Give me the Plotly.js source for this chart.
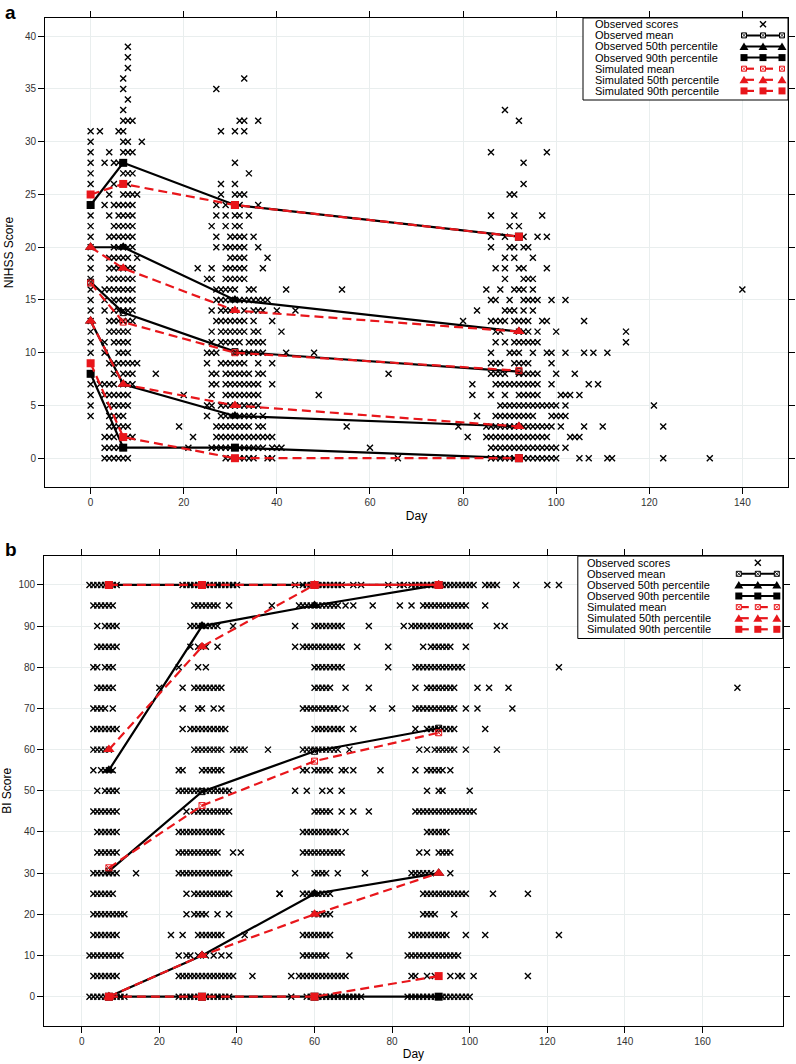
<!DOCTYPE html>
<html><head><meta charset="utf-8">
<script src="https://cdn.plot.ly/plotly-3.0.1.min.js"></script>
<style>html,body{margin:0;padding:0;background:#fff}#chart{width:796px;height:1064px}</style>
</head><body><div id="chart"></div>
<script>
// ---------------- DATA ----------------
// Panel a (NIHSS) summary statistics at visit days
const nihssVisitDays = [0, 7, 31, 92];
const nihssObsMean = [16.7, 13.8, 10.1, 8.2];
const nihssSimMean = [16.6, 12.9, 10.0, 8.3];
const nihssObsTriUpper = [20, 20, 15, 12];
const nihssSimTriUpper = [20, 18, 14, 12];
const nihssObsTriLower = [13, 7, 4, 3];
const nihssSimTriLower = [13, 7, 5, 3];
const nihssObsSqUpper = [24, 28, 24, 21];
const nihssSimSqUpper = [25, 26, 24, 21];
const nihssObsSqLower = [8, 1, 1, 0];
const nihssSimSqLower = [9, 2, 0, 0];

// Panel a observed scores: [score, [days...]]
const nihssEarlyRows = [[39,[8]],[38,[8]],[37,[8]],[36,[7]],[35,[7]],[34,[8]],[33,[7]],[32,[7,8,9]],[31,[0,2,6,7]],[30,[0,7,8,11]],[29,[0,4,7,8,9]],[28,[0,3,5,6,7]],[27,[0,7,8,9]],[26,[0,5,7,8]],[25,[0,4,7,8,9,10]],[24,[0,3,5,6,7,8,9]],[23,[0,4,6,7,8,9]],[22,[0,5,6,7,8,9]],[21,[0,4,5,6,7,8,9]],[20,[0,5,6,7,8,9]],[19,[0,4,5,6,7,8,10]],[18,[0,4,5,6,7,8,9]],[17,[0,4,5,6,7,8,9]],[16,[0,3,4,5,6,7,8,9]],[15,[0,3,5,6,7,8,9]],[14,[0,3,5,6,7,8,9]],[13,[0,4,5,6,7,8,9]],[12,[0,4,5,6,7,8]],[11,[0,3,5,6,7,8]],[10,[0,3,6,7,8]],[9,[0,4,5,6,7,8,9,10]],[8,[0,5,7,8,9,14]],[7,[0,2,3,4,5,7,8,9]],[6,[0,3,4,5,6,7,8]],[5,[0,4,5,6,7,8]],[4,[0,4,5,6,7]],[3,[4,5,6,7,8,19]],[2,[3,4,5,7,8,9]],[1,[3,4,5,6,7]],[0,[3,4,5,6,7,8]]];
const nihssMonth1Rows = [[36,[33]],[35,[27]],[32,[32,33,36]],[31,[28,31,33]],[28,[31]],[27,[34]],[26,[28,31]],[25,[28,31,32,33]],[24,[27,29,31,32,36]],[23,[27,29,31,32,34]],[22,[26,29,31,32]],[21,[27,30,31,32,33,35]],[20,[27,29,30,31,32,33,36]],[19,[30,31,32,33,38]],[18,[23,26,29,30,31,32,33,37]],[17,[25,26,29,30,31,32,33]],[16,[27,28,29,30,31,34,35,42,54]],[15,[27,28,29,30,31,32,33,34,35,36,37,38]],[14,[26,28,29,30,31,33,35,36,37,40,44]],[13,[27,28,29,30,31,32,33,35,39]],[12,[26,28,29,30,31,32,33,35,36,41]],[11,[26,28,29,30,31,32,34,35,36,37]],[10,[25,26,27,31,32,33,34,35,36,37,42,48]],[9,[25,28,29,30,31,32,33,36,39]],[8,[26,27,29,30,31,32,33,34,36,37,64]],[7,[26,27,29,30,31,32,33,34,35,36,39]],[6,[20,26,29,30,31,32,33,34,35,36,49]],[5,[25,26,28,29,30,31,32,33,34,35,36]],[4,[25,28,29,30,31,32,33,34,35,37]],[3,[27,28,29,30,31,32,33,34,36,37,55]],[2,[22,27,28,29,30,31,32,33,34,35,36,37,38,39]],[1,[21,26,27,28,29,30,31,32,33,34,35,36,37,39,40,41,60]],[0,[29,30,31,32,33,34,35,38,39,66]]];
const nihssMonth3Rows = [[33,[89]],[32,[92]],[29,[86,98]],[28,[93]],[26,[93]],[25,[90,91]],[23,[86,91,97]],[22,[90,92]],[21,[86,89,92,93,96,98]],[20,[86,90,91,93,94]],[19,[89,91,95]],[18,[87,89,92,93,98]],[17,[89,93,94,95]],[16,[85,88,91,92,93,95,140]],[15,[86,87,90,93,94,95,96,99,102]],[14,[83,89,90,91,93,95]],[13,[80,86,87,88,89,91,92,93,94,97,98,106]],[12,[87,88,92,93,94,96,100,115]],[11,[87,89,91,92,93,94,95,96,115]],[10,[86,90,91,92,95,98,99,102,106,108,111]],[9,[86,87,88,91,92,93,94,99]],[8,[86,87,88,89,92,93,94,95,96,100,104]],[7,[82,87,88,89,90,91,92,93,94,95,96,99,107,109]],[6,[82,86,89,92,93,94,95,96,101,102,103,105]],[5,[88,89,90,91,92,93,94,95,96,97,98,99,100,102,121]],[4,[83,87,88,89,90,91,92,93,94,95,99,100,101,102]],[3,[79,85,86,87,88,89,90,91,92,93,94,95,96,97,98,99,101,106,110,123]],[2,[81,85,86,87,88,89,90,91,92,93,94,95,96,97,98,103,104,105]],[1,[86,87,88,89,90,91,92,93,94,95,96,97,98,99,100,102]],[0,[86,87,88,89,90,91,92,93,94,95,96,97,98,99,100,105,107,111,112,123,133]]];

// Panel b (BI) summary statistics at visit days
const biVisitDays = [7, 31, 60, 92];
const biObsMean = [30.5, 49.8, 59.6, 65.2];
const biSimMean = [31.3, 46.4, 57.2, 64.1];
const biObsTriUpper = [55, 90, 95, 100];
const biSimTriUpper = [60, 85, 100, 100];
const biObsTriLower = [0, 10, 25, 30];
const biSimTriLower = [0, 10, 20, 30];
const biObsSqUpper = [100, 100, 100, 100];
const biSimSqUpper = [100, 100, 100, 100];
const biObsSqLower = [0, 0, 0, 0];
const biSimSqLower = [0, 0, 0, 5];

// Panel b observed scores: [score, [days...]]
const biWeek1Rows = [[100,[2,3,4,5,6,7,8,9]],[95,[3,4,5,6,7,8]],[90,[4,6,7,8,9]],[85,[4,5,6,7,8,9]],[80,[3,4,6,7,8]],[75,[4,5,6,7,8]],[70,[3,4,5,6,8]],[65,[3,4,5,6,7,8,9]],[60,[3,4,5,6,7]],[55,[3,5,6,7,8]],[50,[4,6,7,8,9]],[45,[3,4,5,6,7,8,9]],[40,[4,5,6,7,8,9]],[35,[4,5,6,7,8,9]],[30,[3,4,5,6,7,8,9,14]],[25,[3,4,5,6,7,8]],[20,[3,4,5,6,7,8,9,10,11]],[15,[3,4,5,6,7,8,9]],[10,[2,3,4,5,6,7,8,9,10]],[5,[3,4,5,6,7,8,9]],[0,[2,3,4,5,6,7,8,9,10,11]]];
const biMonth1Rows = [[100,[26,27,28,29,30,31,32,33,34,35,36,37,38,39,40]],[95,[29,30,31,32,33,34,35,38,49]],[90,[28,29,30,31,32,33,34,35,39]],[85,[28,30,32,35]],[80,[25,30,32]],[75,[20,26,29,30,31,32,33,34,35,36]],[70,[26,30,31,34,36]],[65,[26,28,29,30,31,32,33,34,35,36,37]],[60,[29,30,31,32,33,34,35,36,39,40,41,42,48]],[55,[25,26,31,32,33,34,35,36]],[50,[25,26,27,28,29,30,31,32,33,34,35,36,37,38]],[45,[27,29,30,31,32,33,34,35,36,37,38]],[40,[25,26,27,28,29,30,31,32,33,34,35,36]],[35,[25,26,27,28,29,30,31,32,33,34,35,39,41]],[30,[25,26,27,28,29,30,31,32,33,34,35,36,37,38]],[25,[27,29,30,31,32,33,34,35,36,37,38,51]],[20,[27,29,30,31,32,35,38]],[15,[23,26,30,31,32,33,34,35,36,42]],[10,[25,27,28,30,32,34,36,38]],[5,[25,26,27,28,29,30,31,32,33,34,35,36,37,38,39,44]],[0,[25,26,27,28,29,30,31,32,33,34,35,36,37,38]]];
const biMonth2Rows = [[100,[55,57,58,59,60,61,62,63,64,65,66,67,70,72,79]],[95,[56,57,58,59,60,61,62,63,64,65,66,68,70,75]],[90,[55,60,61,62,63,64,65,66,67,74]],[85,[55,57,58,59,60,61,62,63,64,65,66,67,71,79]],[80,[60,61,62,63,64,65,66,67,79]],[75,[60,61,62,63,64,68,74]],[70,[57,58,59,60,61,62,63,64,65,66,68,75,80]],[65,[60,61,62,63,64,65,66,67,70]],[60,[57,58,59,60,61,62,63,64,65,66,69]],[55,[57,58,60,61,62,63,64,67,68,70,77]],[50,[55,58,62,64,67]],[45,[60,61,62,63,64,67,70,74]],[40,[57,58,59,60,61,62,63,64,65,66,68]],[35,[57,58,59,60,61,62,63,64,65,66,67]],[30,[55,60,61,62,63,66,73]],[25,[51,57,58,59,60,61,62,63,64]],[20,[60,61,62,63,64]],[15,[57,58,59,60,61,62,63,64]],[10,[57,58,59,60,61,62,63,69]],[5,[54,56,57,58,59,60,61,62,63,64,65,66,67,68]],[0,[54,58,59,60,61,62,63,64,65,66,67,68,69,70,71,72]]];
const biMonth3Rows = [[100,[82,83,85,86,87,88,89,90,91,92,93,94,95,96,97,98,99,100,101,104,105,106,107,112,120,123]],[95,[82,85,88,89,90,91,92,93,94,95,96,97,98,99,104]],[90,[83,85,86,87,88,89,90,91,92,93,94,95,96,97,98,99,100,107,109]],[85,[88,90,91,92,93,94,95,99]],[80,[86,87,88,89,90,91,92,93,94,95,96,97,98,123]],[75,[86,89,90,91,92,93,94,95,96,102,105,110,169]],[70,[86,87,88,89,90,91,92,93,94,95,96,99,102,111]],[65,[86,89,90,91,92,93,94,95,96,104]],[60,[87,89,91,92,93,94,95,96,99,107]],[55,[86,89,90,91,92,93,95]],[50,[89,92,93,100]],[45,[86,87,88,89,90,91,92,93,94,95,96,97,98,99,100,101]],[40,[89,90,91,92,93,94]],[35,[87,89,92,93,94,95]],[30,[85,86,87,88,89,90,95]],[25,[88,89,90,91,92,93,94,95,96,97,98,99,106,115]],[20,[88,89,90,91,96]],[15,[85,86,87,88,89,90,91,92,93,94,99,104,123]],[10,[84,85,86,87,88,89,90,91,92,93,94,95,96,97]],[5,[85,86,89,91,95,97,98,101,115]],[0,[84,85,86,87,88,89,90,91,92,93,94,95,96,97,98,99,100]]];

const legendLabels = ["Observed scores","Observed mean","Observed 50th percentile","Observed 90th percentile","Simulated mean","Simulated 50th percentile","Simulated 90th percentile"];

// ---------------- BUILD ----------------
const W = 796, H = 1064;
const fx = p => p / W, fy = p => 1 - p / H;
const RED = '#e8161b', BLK = '#000000';
const FONT = 'Liberation Sans, Arial, Helvetica, sans-serif';

function expandRows(rows) {
  const x = [], y = [];
  rows.forEach(([s, days]) => days.forEach(d => { x.push(d); y.push(s); }));
  return {x, y};
}
function scoresTrace(rowSets, xa, ya) {
  const x = [], y = [];
  rowSets.forEach(r => { const e = expandRows(r); x.push(...e.x); y.push(...e.y); });
  return {type:'scatter', mode:'markers', x, y, xaxis:xa, yaxis:ya, hoverinfo:'skip',
    marker:{symbol:'x-thin', size:6, color:BLK, line:{width:1.4, color:BLK}}};
}
function statTrace(days, vals, xa, ya, sim, kind) {
  const color = sim ? RED : BLK;
  let marker;
  if (kind === 'mean') marker = {symbol:'square-x-open', size:6, color:color, line:{width:1, color:color}};
  else if (kind === 'tri') marker = {symbol:'triangle-up', size:10, color:color};
  else marker = {symbol:'square', size:8, color:color};
  return {type:'scatter', mode:'lines+markers', x:days, y:vals, xaxis:xa, yaxis:ya, hoverinfo:'skip',
    line:{color:color, width:2.2, dash: sim ? '9px,5px' : 'solid'}, marker};
}

const traces = [];
traces.push(scoresTrace([nihssEarlyRows, nihssMonth1Rows, nihssMonth3Rows], 'x', 'y'));
traces.push(scoresTrace([biWeek1Rows, biMonth1Rows, biMonth2Rows, biMonth3Rows], 'x2', 'y2'));
const panels = [
  {d:nihssVisitDays, xa:'x', ya:'y', obs:[nihssObsSqUpper,nihssObsTriUpper,nihssObsMean,nihssObsTriLower,nihssObsSqLower],
   sim:[nihssSimSqUpper,nihssSimTriUpper,nihssSimMean,nihssSimTriLower,nihssSimSqLower]},
  {d:biVisitDays, xa:'x2', ya:'y2', obs:[biObsSqUpper,biObsTriUpper,biObsMean,biObsTriLower,biObsSqLower],
   sim:[biSimSqUpper,biSimTriUpper,biSimMean,biSimTriLower,biSimSqLower]}
];
const kinds = ['sq','tri','mean','tri','sq'];
panels.forEach(p => {
  p.obs.forEach((v,i) => traces.push(statTrace(p.d, v, p.xa, p.ya, false, kinds[i])));
  p.sim.forEach((v,i) => traces.push(statTrace(p.d, v, p.xa, p.ya, true, kinds[i])));
});

// legend drawn as shapes + annotations
const shapes = [], annotations = [];
function L(x0,y0,x1,y1,color,width,dash){shapes.push({type:'line',xref:'paper',yref:'paper',x0:fx(x0),y0:fy(y0),x1:fx(x1),y1:fy(y1),line:{color,width,dash:dash||'solid'},layer:'above'});}
function sq(x,y,h,color){shapes.push({type:'rect',xref:'paper',yref:'paper',x0:fx(x-h),x1:fx(x+h),y0:fy(y+h),y1:fy(y-h),fillcolor:color,line:{width:0},layer:'above'});}
function tri(x,y,color){shapes.push({type:'path',xref:'paper',yref:'paper',path:`M ${fx(x-4.5)},${fy(y+3.5)} L ${fx(x+4.5)},${fy(y+3.5)} L ${fx(x)},${fy(y-4)} Z`,fillcolor:color,line:{width:0},layer:'above'});}
function meanGlyph(x,y,color){shapes.push({type:'rect',xref:'paper',yref:'paper',x0:fx(x-2.5),x1:fx(x+2.5),y0:fy(y+2.5),y1:fy(y-2.5),fillcolor:'#fff',line:{color,width:1},layer:'above'});L(x-2.5,y-2.5,x+2.5,y+2.5,color,0.8);L(x-2.5,y+2.5,x+2.5,y-2.5,color,0.8);}
function xGlyph(x,y){L(x-3,y-3,x+3,y+3,BLK,1.4);L(x-3,y+3,x+3,y-3,BLK,1.4);}
function legend(box, textLeft, row0, mx) {
  shapes.push({type:'rect',xref:'paper',yref:'paper',x0:fx(box[0]),x1:fx(box[2]),y0:fy(box[3]),y1:fy(box[1]),fillcolor:'#ffffff',line:{color:BLK,width:1},layer:'above'});
  const rows = legendLabels.map((t,i) => row0 + 11.1*i);
  legendLabels.forEach((t,i) => annotations.push({xref:'paper',yref:'paper',x:fx(textLeft),y:fy(rows[i]),xanchor:'left',yanchor:'middle',showarrow:false,text:t,font:{family:FONT,size:11,color:BLK}}));
  xGlyph(mx[1], rows[0]);
  const glyph = [null, meanGlyph, (x,y,c)=>tri(x,y,c), (x,y,c)=>sq(x,y,3.5,c)];
  for (let k=1;k<=3;k++){
    const y = rows[k];
    L(mx[0],y,mx[2],y,BLK,2);
    mx.forEach(x => glyph[k](x,y,BLK));
    const ys = rows[k+3];
    L(mx[0],ys,mx[0]+10,ys,RED,2.2); L(mx[1],ys,mx[1]+10,ys,RED,2.2);
    mx.forEach(x => glyph[k](x,ys,RED));
  }
}
legend([583,18,788,100], 593, 24.3, [744,763,782]);
legend([577.8,556.1,782.8,638.5], 585, 562.7, [738.8,757.8,776.8]);

annotations.push({xref:'paper',yref:'paper',x:fx(3),y:fy(13),xanchor:'left',yanchor:'middle',showarrow:false,text:'<b>a</b>',font:{family:FONT,size:19,color:BLK}});
annotations.push({xref:'paper',yref:'paper',x:fx(3),y:fy(549),xanchor:'left',yanchor:'middle',showarrow:false,text:'<b>b</b>',font:{family:FONT,size:19,color:BLK}});

const axisCommon = {
  showline:true, linecolor:BLK, linewidth:1, mirror:'allticks',
  ticks:'outside', ticklen:6, tickwidth:1, tickcolor:BLK,
  showgrid:true, gridcolor:'#e9eeee', gridwidth:1, zeroline:false,
  tickfont:{family:FONT, size:10, color:'#333'}, automargin:false, fixedrange:true
};
const titleFont = {family:FONT, size:12, color:BLK};
const layout = {
  width:W, height:H, margin:{l:0,r:0,t:0,b:0}, paper_bgcolor:'#fff', plot_bgcolor:'#fff',
  showlegend:false, hovermode:false,
  xaxis: Object.assign({}, axisCommon, {domain:[fx(45),fx(788)], range:[-9.8,149.8], tickvals:[0,20,40,60,80,100,120,140], anchor:'y', title:{text:'Day', font:titleFont, standoff:4}}),
  yaxis: Object.assign({}, axisCommon, {domain:[fy(487),fy(18)], range:[-2.73,41.73], tickvals:[0,5,10,15,20,25,30,35,40], anchor:'x', title:{text:'NIHSS Score', font:titleFont, standoff:8}}),
  xaxis2: Object.assign({}, axisCommon, {domain:[fx(44.1),fx(782.8)], range:[-9.7,180.7], tickvals:[0,20,40,60,80,100,120,140,160], anchor:'y2', title:{text:'Day', font:titleFont, standoff:4}}),
  yaxis2: Object.assign({}, axisCommon, {domain:[fy(1025.5),fy(556.1)], range:[-7,107], tickvals:[0,10,20,30,40,50,60,70,80,90,100], anchor:'x2', title:{text:'BI Score', font:titleFont, standoff:8}}),
  shapes, annotations
};
Plotly.newPlot('chart', traces, layout, {staticPlot:true, displayModeBar:false});
</script>
</body></html>
